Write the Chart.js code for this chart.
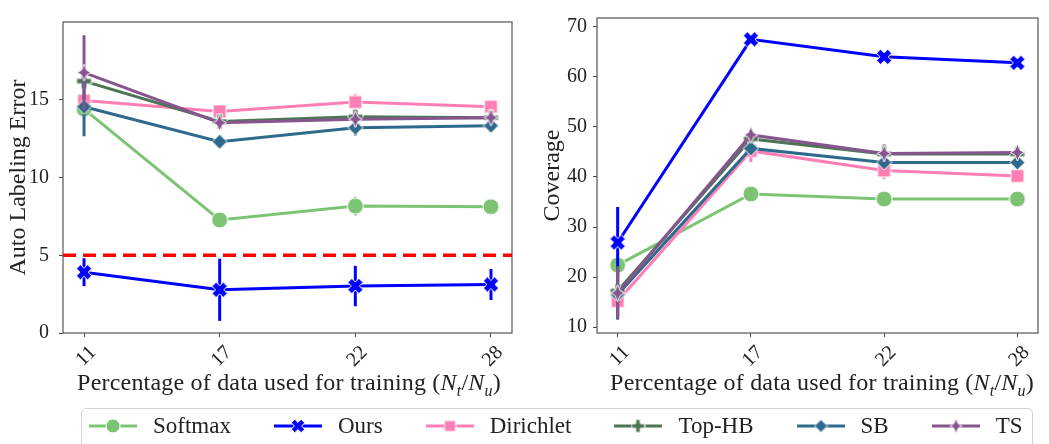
<!DOCTYPE html>
<html>
<head>
<meta charset="utf-8">
<script src="https://cdn.jsdelivr.net/npm/chart.js@4/dist/chart.umd.min.js"></script>
<style>
  body { margin:0; background:#fff; width:1049px; height:444px; overflow:hidden; position:relative;
         font-family:"Liberation Serif", "DejaVu Serif", serif; color:#222; }
  .box { position:absolute; top:0; height:380px; }
  .xtitle { position:absolute; top:369px; font-size:24px; letter-spacing:0.2px; white-space:nowrap; transform:translateX(-50%); }
  .xtitle sub { font-size:16px; font-style:italic; }
  #legend { position:absolute; left:81px; top:408px; width:952px; height:50px; border:1px solid #d4d4d4;
            border-radius:5px; display:flex; align-items:flex-start; padding-left:7px; box-sizing:border-box; }
  .item { display:flex; align-items:center; margin-right:43px; height:34px; font-size:23px; white-space:nowrap; flex:none; }
  .item canvas { margin-right:16px; }
</style>
</head>
<body>
<div class="box" style="left:0;width:525px"><canvas id="left"></canvas></div>
<div class="box" style="left:525px;width:524px"><canvas id="right"></canvas></div>
<div class="xtitle" style="left:289px">Percentage of data used for training (<i>N</i><sub>t</sub>/<i>N</i><sub>u</sub>)</div>
<div class="xtitle" style="left:822px">Percentage of data used for training (<i>N</i><sub>t</sub>/<i>N</i><sub>u</sub>)</div>
<div id="legend"></div>
<script>
// ---- data ----
const categories = ["11", "17", "22", "28"];
const methods = ["Softmax", "Ours", "Dirichlet", "Top-HB", "SB", "TS"];

// auto labeling error (left panel), one row per method
const errMean = [
  [14.4, 7.27, 8.16, 8.12],
  [3.91, 2.78, 3.02, 3.12],
  [14.95, 14.25, 14.85, 14.55],
  [16.2, 13.6, 13.9, 13.85],
  [14.55, 12.3, 13.2, 13.33],
  [16.75, 13.52, 13.75, 13.85]
];
const errStd = [
  [0.3, 0.3, 0.6, 0.3],
  [0.9, 2.0, 1.3, 1.0],
  [0.3, 0.4, 0.5, 0.3],
  [0.4, 0.2, 0.4, 0.2],
  [1.9, 0.3, 0.5, 0.2],
  [2.4, 0.3, 0.5, 0.3]
];
const threshold = 5;

// coverage (right panel)
const covMean = [
  [22.4, 36.6, 35.6, 35.6],
  [26.9, 67.5, 64.0, 62.8],
  [15.2, 45.2, 41.3, 40.2],
  [17.2, 47.6, 44.6, 44.6],
  [16.5, 45.7, 42.9, 42.9],
  [16.8, 48.4, 44.7, 44.9]
];
const covStd = [
  [0.5, 1.0, 0.5, 0.3],
  [7.1, 0.5, 0.4, 0.3],
  [3.6, 2.2, 1.7, 0.6],
  [5.0, 1.0, 1.0, 0.5],
  [5.0, 1.0, 1.0, 0.5],
  [5.0, 1.0, 1.8, 0.8]
];

const leftTicks = [0, 5, 10, 15];
const rightTicks = [10, 20, 30, 40, 50, 60, 70];

// ---- styles ----
const colors = ["#7cc474", "#0000ff", "#ff7eb4", "#4c7555", "#2f6a8d", "#87558d"];
const shapes = ["circle", "x", "square", "plus", "diamond", "star4"];
const sizes = [16, 16, 13, 15, 15, 17];

function makeMarker(shape, color, s){
  const c = document.createElement("canvas");
  c.width = c.height = s + 2;
  const ctx = c.getContext("2d");
  const r = s / 2;
  ctx.translate(c.width / 2, c.height / 2);
  ctx.beginPath();
  if(shape === "circle"){
    ctx.arc(0, 0, r, 0, Math.PI * 2);
  } else if(shape === "square"){
    ctx.rect(-r, -r, s, s);
  } else if(shape === "diamond"){
    ctx.moveTo(0, -r); ctx.lineTo(r, 0); ctx.lineTo(0, r); ctx.lineTo(-r, 0); ctx.closePath();
  } else if(shape === "star4"){
    const q = r * 0.3;
    ctx.moveTo(0, -r); ctx.lineTo(q, -q); ctx.lineTo(r * 0.8, 0); ctx.lineTo(q, q);
    ctx.lineTo(0, r); ctx.lineTo(-q, q); ctx.lineTo(-r * 0.8, 0); ctx.lineTo(-q, -q); ctx.closePath();
  } else {
    // plus / x : filled cross, x is the rotated one
    const w = r * 0.36, L = r;
    const pts = [[-w,-L],[w,-L],[w,-w],[L,-w],[L,w],[w,w],[w,L],[-w,L],[-w,w],[-L,w],[-L,-w],[-w,-w]];
    const a = shape === "x" ? Math.PI / 4 : 0;
    pts.forEach((p, i) => {
      const x = p[0] * Math.cos(a) - p[1] * Math.sin(a);
      const y = p[0] * Math.sin(a) + p[1] * Math.cos(a);
      if(i === 0) ctx.moveTo(x, y); else ctx.lineTo(x, y);
    });
    ctx.closePath();
  }
  ctx.fillStyle = color;
  ctx.fill();
  ctx.strokeStyle = "#fff";
  ctx.lineWidth = 1;
  ctx.stroke();
  return c;
}

const markers = shapes.map((s, i) => makeMarker(s, colors[i], sizes[i]));

// vertical error bars, drawn just before each dataset so stacking follows it
const errorBars = {
  id: "errorBars",
  beforeDatasetDraw(chart, args){
    const ds = chart.data.datasets[args.index];
    if(!ds.std) return;
    const y = chart.scales.y, ctx = chart.ctx;
    ctx.save();
    ctx.strokeStyle = ds.borderColor;
    ctx.lineWidth = 3;
    args.meta.data.forEach((pt, i) => {
      const v = ds.data[i].y, e = ds.std[i];
      ctx.beginPath();
      ctx.moveTo(pt.x, y.getPixelForValue(v - e));
      ctx.lineTo(pt.x, y.getPixelForValue(v + e));
      ctx.stroke();
    });
    ctx.restore();
  }
};

const frame = {
  id: "frame",
  beforeDatasetsDraw(chart){
    const a = chart.chartArea, ctx = chart.ctx;
    ctx.save();
    ctx.strokeStyle = "#555";
    ctx.lineWidth = 1.2;
    ctx.strokeRect(a.left, a.top, a.right - a.left, a.bottom - a.top);
    ctx.restore();
  }
};

const hline = {
  id: "hline",
  afterDatasetsDraw(chart, args, opts){
    if(opts.value == null) return;
    const a = chart.chartArea, ctx = chart.ctx;
    const py = chart.scales.y.getPixelForValue(opts.value);
    ctx.save();
    ctx.strokeStyle = "#ff0000";
    ctx.lineWidth = 3.5;
    ctx.setLineDash([13, 7]);
    ctx.beginPath();
    ctx.moveTo(a.left, py);
    ctx.lineTo(a.right, py);
    ctx.stroke();
    ctx.restore();
  }
};

function buildDatasets(means, stds){
  return methods.map((m, k) => ({
    label: m,
    data: categories.map((c, i) => ({ x: i, y: means[k][i] })),
    std: stds[k],
    borderColor: colors[k],
    backgroundColor: colors[k],
    borderWidth: 3,
    pointStyle: markers[k],
    pointRadius: 8,
    pointHoverRadius: 8,
    order: methods.length - k,
    tension: 0
  }));
}

const tickFont = { family: "Liberation Serif", size: 20 };

function makeChart(id, means, stds, yMin, yMax, yTicks, yTitle, opt){
  return new Chart(document.getElementById(id), {
    type: "line",
    data: { datasets: buildDatasets(means, stds) },
    options: {
      responsive: true,
      maintainAspectRatio: false,
      animation: false,
      layout: { padding: opt.padding },
      plugins: { legend: { display: false }, tooltip: { enabled: false }, hline: { value: opt.hline } },
      scales: {
        x: {
          type: "linear", min: -0.155, max: 3.155,
          afterBuildTicks: s => { s.ticks = categories.map((c, i) => ({ value: i })); },
          afterFit: s => { s.height = 47; },
          grid: { drawOnChartArea: false, drawTicks: true, tickLength: 4, color: "#444" },
          border: { display: false },
          ticks: { callback: v => categories[v], font: tickFont, color: "#222",
                   minRotation: 45, maxRotation: 45, padding: 4, labelOffset: 9 }
        },
        y: {
          min: yMin, max: yMax,
          afterBuildTicks: s => { s.ticks = yTicks.map(v => ({ value: v })); },
          afterFit: s => { s.width = opt.yWidth; },
          grid: { drawOnChartArea: false, drawTicks: true, tickLength: 4, color: "#444" },
          border: { display: false },
          ticks: { font: tickFont, color: "#222", padding: opt.tickPad },
          title: { display: true, text: yTitle, font: { family: "Liberation Serif", size: 24 },
                   color: "#222", padding: { top: opt.titlePad, bottom: 0 } }
        }
      }
    },
    plugins: [frame, errorBars, hline]
  });
}

makeChart("left", errMean, errStd, 0, 20, leftTicks, "Auto Labeling Error",
  { padding: { top: 10, right: 13, left: 0, bottom: 0 }, yWidth: 63, tickPad: 10, titlePad: 4, hline: threshold });
makeChart("right", covMean, covStd, 8.83, 71.76, rightTicks, "Coverage",
  { padding: { top: 11, right: 4, left: 0, bottom: 0 }, yWidth: 72, tickPad: 6, titlePad: 13, hline: null });

// legend
const legend = document.getElementById("legend");
methods.forEach((m, k) => {
  const item = document.createElement("div");
  item.className = "item";
  const ic = document.createElement("canvas");
  ic.width = 48; ic.height = 20;
  const ctx = ic.getContext("2d");
  ctx.strokeStyle = colors[k];
  ctx.lineWidth = 3;
  ctx.beginPath(); ctx.moveTo(0, 10); ctx.lineTo(48, 10); ctx.stroke();
  const mk = makeMarker(shapes[k], colors[k], sizes[k] - 2);
  ctx.drawImage(mk, 24 - mk.width / 2, 10 - mk.height / 2);
  item.appendChild(ic);
  const t = document.createElement("span");
  t.textContent = m;
  item.appendChild(t);
  legend.appendChild(item);
});
</script>
</body>
</html>
